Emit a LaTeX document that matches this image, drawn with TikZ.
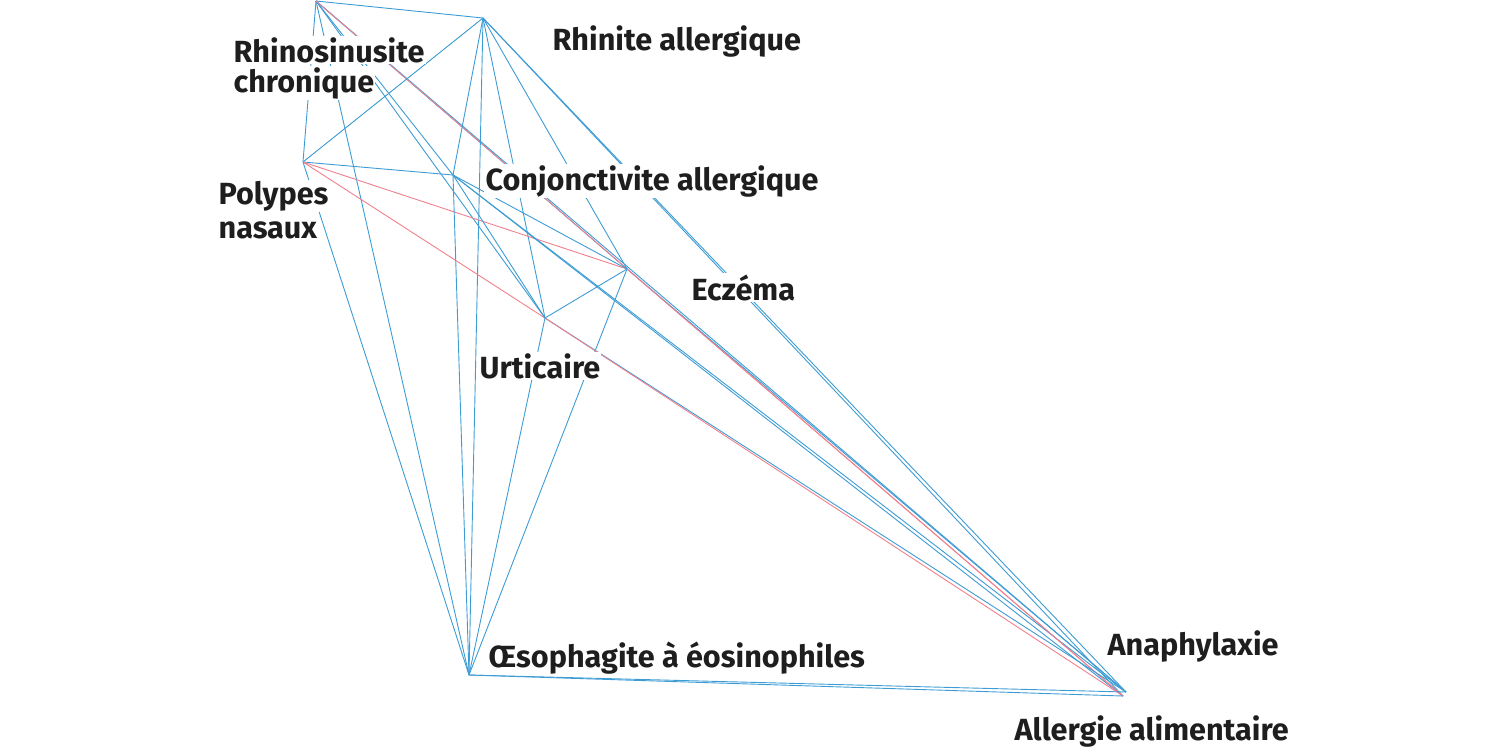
\documentclass[tikz,border=0pt]{standalone}
\usepackage{fontspec}
\setmainfont{Fira Sans}
\definecolor{eblue}{RGB}{62,156,212}
\definecolor{ered}{RGB}{240,128,140}
\definecolor{txt}{RGB}{30,30,30}
\tikzset{
  be/.style={draw=eblue, line width=0.45pt},
  re/.style={draw=ered, line width=0.45pt},
  lbl/.style={anchor=base west, inner sep=0.6pt, fill=white, text=txt, font=\bfseries\fontsize{15.3}{17}\selectfont}
}
\begin{document}
\begin{tikzpicture}[x=0.5pt, y=-0.5pt]
\useasboundingbox (0,0) rectangle (1500,751);
% vertices
\coordinate (R) at (316,1);
\coordinate (RA) at (483,18);
\coordinate (P) at (303,162);
\coordinate (C) at (453,175);
\coordinate (E) at (627,269);
\coordinate (U) at (545,318);
\coordinate (O) at (469,675);
\coordinate (An) at (1126,692);
\coordinate (AA) at (1123,696);
% edges
\draw[be] (R) -- (RA);
\draw[be] (R) -- (P);
\draw[be] (R) -- (O);
\draw[be] (R) -- (C);
\draw[be] (R) -- (U);
\draw[be] (R) -- (E);
\draw[be] (R) -- (An);
\draw[re] (R) -- (AA);
\draw[be] (RA) -- (P);
\draw[be] (RA) -- (C);
\draw[be] (RA) -- (O);
\draw[be] (RA) -- (U);
\draw[be] (RA) -- (E);
\draw[be] (RA) -- (An);
\draw[be] (RA) -- (AA);
\draw[be] (P) -- (C);
\draw[be] (P) -- (O);
\draw[re] (P) -- (E);
\draw[re] (P) -- (U);
\draw[be] (C) -- (O);
\draw[be] (C) -- (E);
\draw[be] (C) -- (U);
\draw[be] (C) -- (An);
\draw[be] (C) -- (AA);
\draw[be] (E) -- (U);
\draw[be] (E) -- (O);
\draw[be] (E) -- (An);
\draw[re] (E) -- (AA);
\draw[be] (U) -- (O);
\draw[be] (U) -- (An);
\draw[re] (U) -- (AA);
\draw[be] (O) -- (An);
\draw[be] (O) -- (AA);
% labels
\node[lbl] (lR1) at (232,62) {Rhinosinusite};
\node[lbl] (lR2) at (232,92) {chronique};
\node[lbl] (lRA) at (551,50) {Rhinite allergique};
\node[lbl] (lP1) at (217,204) {Polypes};
\node[lbl] (lP2) at (217,238) {nasaux};
\node[lbl] (lC) at (484,190) {Conjonctivite allergique};
\node[lbl] (lE) at (690,300) {Eczéma};
\node[lbl] (lU) at (478,378) {Urticaire};
\node[lbl] (lO) at (487,667) {Œsophagite à éosinophiles};
\node[lbl] (lAn) at (1106,655) {Anaphylaxie};
\node[lbl] (lAA) at (1013,740) {Allergie alimentaire};
\end{tikzpicture}
\end{document}
